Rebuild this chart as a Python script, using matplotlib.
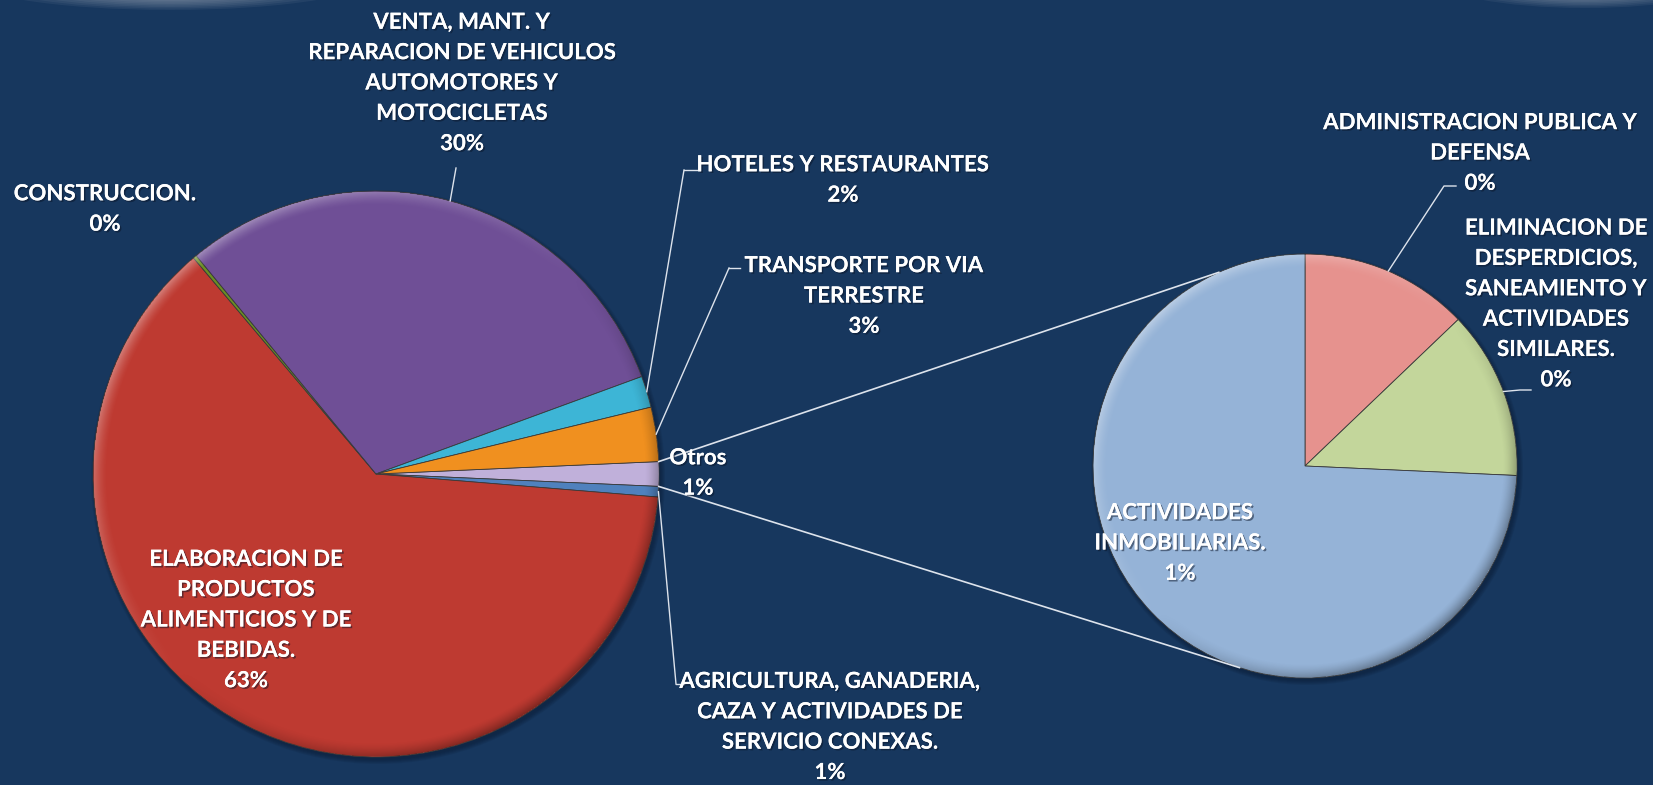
import numpy as np
import matplotlib
matplotlib.use('Agg')
import matplotlib.pyplot as plt
import matplotlib.patheffects as pe
from matplotlib.patches import Ellipse, Rectangle, Circle

plt.rcParams['font.family'] = ['Lato', 'DejaVu Sans']

# datos (% del total)
sectores = ['AGRICULTURA, GANADERIA,\nCAZA Y ACTIVIDADES DE\nSERVICIO CONEXAS.',
            'ELABORACION DE\nPRODUCTOS\nALIMENTICIOS Y DE\nBEBIDAS.',
            'CONSTRUCCION.',
            'VENTA, MANT. Y\nREPARACION DE VEHICULOS\nAUTOMOTORES Y\nMOTOCICLETAS',
            'HOTELES Y RESTAURANTES',
            'TRANSPORTE POR VIA\nTERRESTRE']
participacion = [0.6, 62.6, 0.2, 30.4, 1.8, 3.1]
colores = ['#4F81BD', '#BE3A31', '#6B8E23', '#6F4F96', '#3DB5D6', '#F0901F']

sub_sectores = ['ADMINISTRACION PUBLICA Y\nDEFENSA',
                'ELIMINACION DE\nDESPERDICIOS,\nSANEAMIENTO Y\nACTIVIDADES\nSIMILARES.',
                'ACTIVIDADES\nINMOBILIARIAS.']
sub_participacion = [0.18, 0.18, 1.04]
sub_colores = ['#E6928E', '#C3D69B', '#95B3D7']

otros = sum(sub_participacion)
color_otros = '#C0B0DA'
total = otros + sum(participacion)

W, H = 1662, 785
fondo = '#17375E'


def Y(y):
    return H - y


def pct(v):
    return '%d%%' % round(v / total * 100)


def bisel(ax, c, r, ancho=14):
    # brillo arriba-izquierda y sombra abajo-derecha en el borde
    n = int(2 * r) + 2
    xs = np.linspace(c[0] - r, c[0] + r, n)
    ys = np.linspace(c[1] - r, c[1] + r, n)
    gx, gy = np.meshgrid(xs, ys)
    d = np.hypot(gx - c[0], gy - c[1])
    phi = np.arctan2(gy - c[1], gx - c[0])
    luz = np.cos(phi - np.radians(135))
    t = np.clip((d - (r - ancho)) / ancho, 0, 1)
    img = np.zeros((n, n, 4))
    img[..., :3] = np.where(luz[..., None] > 0, 1.0, 0.0)
    img[..., 3] = (t ** 1.5) * np.abs(luz) * 0.35 * (d <= r)
    im = ax.imshow(img, extent=(c[0] - r, c[0] + r, c[1] - r, c[1] + r), origin='lower',
                   aspect='auto', zorder=3, interpolation='bilinear')
    im.set_clip_path(Circle(c, r, transform=ax.transData))


fig = plt.figure(figsize=(W / 100, H / 100), dpi=100)
fig.patch.set_facecolor(fondo)
ax = fig.add_axes([0, 0, 1, 1])
ax.set_facecolor(fondo)

c1, r1 = (376, Y(474)), 283
c2, r2 = (1305, Y(466)), 212

# sombra bajo los pasteles
for c, r in [(c1, r1), (c2, r2)]:
    for k in range(5):
        ax.add_patch(Circle((c[0] + 2, c[1] - 3), r + 4 - k, color='#0A1A30', alpha=0.12, lw=0))

# pastel principal: Otros centrado a las 3 en punto
vals = [otros] + participacion
cols = [color_otros] + colores
ang0 = otros / total * 360 / 2
w1, _ = ax.pie(vals, colors=cols, center=c1, radius=r1, startangle=ang0,
               counterclock=False, wedgeprops=dict(edgecolor='#3a3a3a', linewidth=0.6))

# pastel secundario
w2, _ = ax.pie(sub_participacion, colors=sub_colores, center=c2, radius=r2, startangle=90,
               counterclock=False, wedgeprops=dict(edgecolor='#3a3a3a', linewidth=0.6))

bisel(ax, c1, r1)
bisel(ax, c2, r2)


def rim(c, r, a):
    return c[0] + r * np.cos(np.radians(a)), c[1] + r * np.sin(np.radians(a))


def mid(w):
    return (w.theta1 + w.theta2) / 2


lc = '#DDE3EC'
# lineas de conexion
for a1, a2 in [(ang0, 114), (-ang0, 252)]:
    p = rim(c1, r1, a1)
    q = rim(c2, r2, a2)
    ax.plot([p[0], q[0]], [p[1], q[1]], color=lc, lw=1.2, zorder=4)

sombra = [pe.withSimplePatchShadow(offset=(1.2, -1.2), shadow_rgbFace='#0A1528', alpha=0.5), pe.Normal()]
txt = dict(color='white', fontsize=16, fontweight='bold', ha='center', va='center',
           linespacing=1.55, multialignment='center', path_effects=sombra, zorder=5)

# etiquetas pastel principal: (x, y centro, punto de guia, fin de guia)
pos = [(830, 727, (676, 684), (684, 684)),
       (246, 620, None, None),
       (105, 209, None, None),
       (462, 83, (456, 168), None),
       (843, 180, (684, 170), (697, 170)),
       (864, 296, (729, 268), (740, 268))]
for i, (x, y, guia, tic) in enumerate(pos):
    v = participacion[i]
    ax.text(x, Y(y), sectores[i] + '\n' + pct(v), **txt)
    if guia is not None:
        p = rim(c1, r1, mid(w1[i + 1]))
        ax.plot([p[0], guia[0]], [p[1], Y(guia[1])], color=lc, lw=1, zorder=4)
        if tic is not None:
            ax.plot([guia[0], tic[0]], [Y(guia[1]), Y(tic[1])], color=lc, lw=1, zorder=4)

ax.text(698, Y(473), 'Otros\n' + pct(otros), **txt)

# etiquetas pastel secundario
sub_pos = [(1480, 153, (1444, 186), (1456, 186)),
           (1556, 304, (1520, 390), (1531, 390)),
           (1180, 543, None, None)]
for i, (x, y, guia, tic) in enumerate(sub_pos):
    ax.text(x, Y(y), sub_sectores[i] + '\n' + pct(sub_participacion[i]), **txt)
    if guia is not None:
        p = rim(c2, r2, mid(w2[i]))
        ax.plot([p[0], guia[0], tic[0]], [p[1], Y(guia[1]), Y(tic[1])], color=lc, lw=1, zorder=4)

# brillos decorativos en las esquinas superiores
for k in range(12):
    ax.add_patch(Ellipse((170, Y(-25)), 420 - k * 25, 70 - k * 3, color='#C8CCD4', alpha=0.07, lw=0))
    ax.add_patch(Ellipse((1585, Y(-22)), 300 - k * 18, 60 - k * 3, color='#C8CCD4', alpha=0.07, lw=0))
ax.add_patch(Rectangle((1653, 0), 10, H, color='white', lw=0, zorder=6))

ax.set_xlim(0, W)
ax.set_ylim(0, H)
ax.set_aspect('auto')
ax.axis('off')
fig.savefig('out.png', dpi=100, facecolor=fondo)
